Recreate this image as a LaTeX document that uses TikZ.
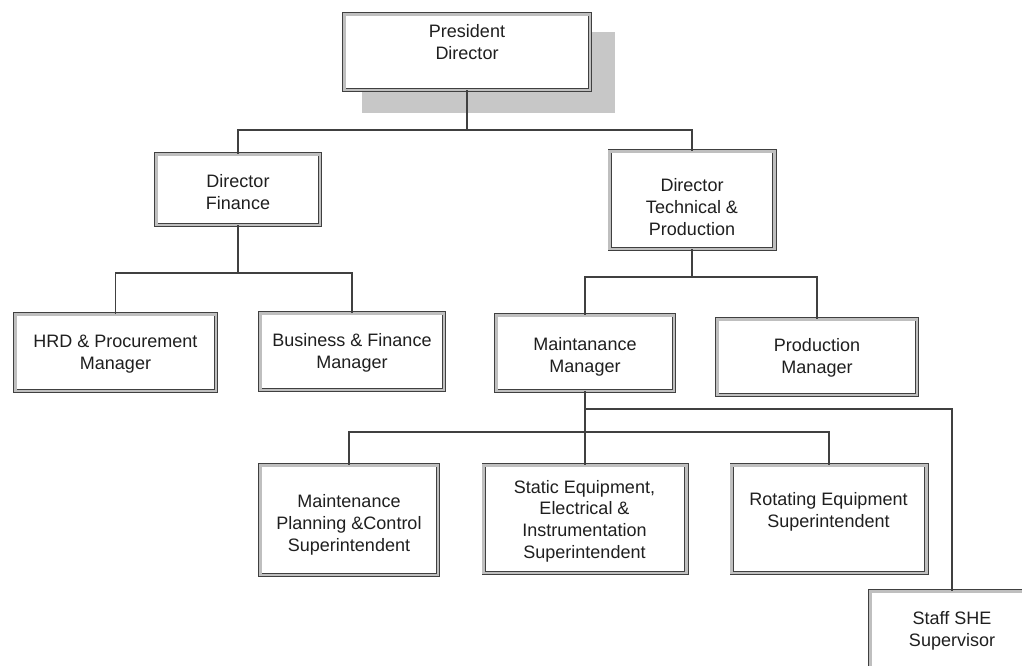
\documentclass[tikz,border=0pt]{standalone}
\usepackage{fontspec}
\setmainfont{Liberation Sans}
\begin{document}
\begin{tikzpicture}[x=1pt,y=-1pt,
  box/.style={draw=black!75, line width=0.9pt, double=black!25, double distance=2.6pt, fill=white, inner sep=0pt},
  txt/.style={align=center, inner sep=0pt, text=black!88, font=\fontsize{18}{21.7}\selectfont},
  conn/.style={draw=black!75, line width=1.2pt}]
\useasboundingbox (0,0) rectangle (1022,665);
\clip (0,0) rectangle (1022,665);
% shadow of president box
\fill[black!22] (362,32) rectangle (615,113);
% boxes (outer size minus 4.4)
\node[box, minimum width=245.6pt, minimum height=75.6pt] (pres) at (467,52) {};
\node[box, minimum width=163.6pt, minimum height=70.6pt] (dfin) at (238,189.5) {};
\node[box, minimum width=164.6pt, minimum height=97.6pt] (dtech) at (692,200) {};
\node[box, minimum width=200.6pt, minimum height=76.6pt] (hrd) at (115.5,352.5) {};
\node[box, minimum width=183.6pt, minimum height=76.6pt] (bus) at (352,351.5) {};
\node[box, minimum width=177.6pt, minimum height=75.6pt] (maint) at (585,353) {};
\node[box, minimum width=199.6pt, minimum height=75.6pt] (prod) at (817,357) {};
\node[box, minimum width=177.6pt, minimum height=109.6pt] (mpc) at (349,520) {};
\node[box, minimum width=202.6pt, minimum height=107.6pt] (static) at (585,519) {};
\node[box, minimum width=194.6pt, minimum height=107.6pt] (rot) at (829,519) {};
\node[box, minimum width=163.6pt, minimum height=79.6pt] (staff) at (952,631) {};
% texts
\node[txt] (tpres) at (467,42) {President\\Director};
\node[txt] (tdfin) at (238,192) {Director\\Finance};
\node[txt] (tdtech) at (692,207) {Director\\Technical \&\\Production};
\node[txt] (thrd) at (115.5,354) {HRD \& Procurement\\Manager};
\node[txt] (tbus) at (352,353) {Business \& Finance\\Manager};
\node[txt] (tmaint) at (585,357) {Maintanance\\Manager};
\node[txt] (tprod) at (817,358) {Production\\Manager};
\node[txt] (tmpc) at (349,525) {Maintenance\\Planning \&Control\\Superintendent};
\node[txt] (tstatic) at (584.5,521) {Static Equipment,\\Electrical \&\\Instrumentation\\Superintendent};
\node[txt] (trot) at (828.5,512) {Rotating Equipment\\Superintendent};
\node[txt] (tstaff) at (952,631) {Staff SHE\\Supervisor};
% junctions
\coordinate (j1) at (467,130);
\coordinate (j2) at (238,273);
\coordinate (j3) at (692,277);
\coordinate (j4) at (585,409);
\coordinate (j5) at (585,432);
\coordinate (j6) at (952,409);
% connectors
\draw[conn] (pres.south) -- (j1);
\draw[conn] (dfin.north) |- (j1) -| (dtech.north);
\draw[conn] (dfin.south) -- (j2);
\draw[conn] (hrd.north) |- (j2) -| (bus.north);
\draw[conn] (dtech.south) -- (j3);
\draw[conn] (maint.north) |- (j3) -| (prod.north);
\draw[conn] (maint.south) -- (j4) -- (j5);
\draw[conn] (j4) -- (j6) -- (staff.north);
\draw[conn] (mpc.north) |- (j5) -| (rot.north);
\draw[conn] (j5) -- (static.north);
\end{tikzpicture}
\end{document}
